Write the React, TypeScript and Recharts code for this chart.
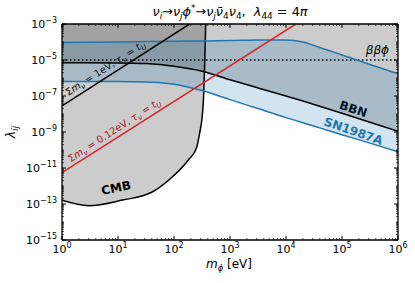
import React from "react";
import { Area, ComposedChart, Line, ReferenceLine, XAxis, YAxis } from "recharts";

document.body.style.margin = "0";

// mass axis (eV) and coupling axis
const massTicks = [1, 10, 100, 1e3, 1e4, 1e5, 1e6];
const lambdaTicks = [1e-15, 1e-14, 1e-13, 1e-12, 1e-11, 1e-10, 1e-9, 1e-8, 1e-7, 1e-6, 1e-5, 1e-4, 1e-3];
const subs = [2, 3, 4, 5, 6, 7, 8, 9];
const massMinor = massTicks.slice(0, -1).flatMap((d) => subs.map((s) => s * d));
const lambdaMinor = lambdaTicks.slice(0, -1).flatMap((d) => subs.map((s) => s * d));
const massAll = [...massTicks, ...massMinor].sort((a, b) => a - b);
const lambdaAll = [...lambdaTicks, ...lambdaMinor].sort((a, b) => a - b);
const lambdaTop = 1e-3;

// SN1987A band
const snMass = [1, 10, 31.6, 100, 316, 1000, 3160, 1e4, 2e4, 4e4, 1e5, 3.16e5, 1e6];
const snUpper = [9.5e-5, 1.0e-4, 1.05e-4, 1.1e-4, 1.15e-4, 1.2e-4, 1.3e-4, 1.3e-4, 1.0e-4, 5e-5, 1.9e-5, 5.6e-6, 1.7e-6];
const snLower = [6.3e-7, 6.3e-7, 6e-7, 4.5e-7, 2e-7, 6.3e-8, 2e-8, 6.3e-9, 3.3e-9, 1.7e-9, 7e-10, 2.4e-10, 8e-11];

// BBN bound
const bbnMass = [1, 10, 31.6, 100, 316, 1000, 3160, 1e4, 1e5, 1e6];
const bbnLambda = [7.1e-6, 6.9e-6, 6.3e-6, 4.5e-6, 2.4e-6, 8e-7, 2.8e-7, 1e-7, 1.1e-8, 1.1e-9];

// CMB bound
const cmbMass = [1, 3, 12, 40, 80, 180, 253, 291, 312, 337, 355, 368];
const cmbLambda = [1.6e-13, 8e-14, 1.65e-13, 4.5e-13, 2.1e-12, 2.8e-11, 1.35e-10, 1.1e-9, 4e-9, 8e-8, 1e-5, 1e-3];

// lifetime lines
const oneEvMass = [1, 190];
const oneEvLambda = [2.8e-8, 1e-3];
const tenthEvMass = [1, 1.5e4];
const tenthEvLambda = [5.5e-12, 1e-3];
const betaBetaLimit = 1e-5;

const snTable = snMass.map((m, i) => ({ m, upper: snUpper[i], lower: snLower[i], band: [snLower[i], snUpper[i]] }));
const bbnTable = bbnMass.map((m, i) => ({ m, lambda: bbnLambda[i], band: [bbnLambda[i], lambdaTop] }));
const cmbTable = cmbMass.map((m, i) => ({ m, lambda: cmbLambda[i], band: [cmbLambda[i], lambdaTop] }));
const oneEvTable = oneEvMass.map((m, i) => ({ m, lambda: oneEvLambda[i] }));
const tenthEvTable = tenthEvMass.map((m, i) => ({ m, lambda: tenthEvLambda[i] }));

const FONT = "DejaVu Sans";
const BLUE = "#1f77b4";
const RED = "#d62728";

const isDecade = (v: number) => Math.abs(Math.log10(v) - Math.round(Math.log10(v))) < 1e-6;
const expOf = (v: number) => {
  const e = Math.round(Math.log10(v));
  return e < 0 ? "\u2212" + Math.abs(e) : String(e);
};

type Part = [string, "n" | "sub" | "sup", boolean?];

function mathParts(parts: Part[], size: number) {
  let cur = 0;
  return parts.map(([t, kind, it], i) => {
    const target = kind === "sub" ? size * 0.25 : kind === "sup" ? -size * 0.4 : 0;
    const dy = target - cur;
    cur = target;
    return (
      <tspan key={i} dy={dy} fontSize={kind === "n" ? size : size * 0.7} fontStyle={it ? "italic" : "normal"}>
        {t}
      </tspan>
    );
  });
}

function BottomTick(props: any) {
  const { x, y, payload } = props;
  const major = isDecade(payload.value);
  return (
    <g>
      <line x1={x} x2={x} y1={y} y2={y - (major ? 4 : 2)} stroke="#000" strokeWidth={major ? 1 : 0.7} />
      {major && (
        <text x={x} y={y + 13} textAnchor="middle" fontSize={11} fontFamily={FONT} fill="#000">
          10<tspan dy={-5} fontSize={8}>{expOf(payload.value)}</tspan>
        </text>
      )}
    </g>
  );
}

function TopTick(props: any) {
  const { x, y, payload } = props;
  const major = isDecade(payload.value);
  return <line x1={x} x2={x} y1={y} y2={y + (major ? 4 : 2)} stroke="#000" strokeWidth={major ? 1 : 0.7} />;
}

function LeftTick(props: any) {
  const { x, y, payload } = props;
  const v = payload.value;
  const major = isDecade(v) && Math.abs(Math.round(Math.log10(v))) % 2 === 1;
  return (
    <g>
      <line x1={x} x2={x + (major ? 4 : 2)} y1={y} y2={y} stroke="#000" strokeWidth={major ? 1 : 0.7} />
      {major && (
        <text x={x - 5} y={y + 4} textAnchor="end" fontSize={11} fontFamily={FONT} fill="#000">
          10<tspan dy={-5} fontSize={8}>{expOf(v)}</tspan>
        </text>
      )}
    </g>
  );
}

function RightTick(props: any) {
  const { x, y, payload } = props;
  const v = payload.value;
  const major = isDecade(v) && Math.abs(Math.round(Math.log10(v))) % 2 === 1;
  return <line x1={x} x2={x - (major ? 4 : 2)} y1={y} y2={y} stroke="#000" strokeWidth={major ? 1 : 0.7} />;
}

export default function App() {
  const xCommon = { type: "number" as const, scale: "log" as const, domain: [1, 1e6], allowDataOverflow: true, dataKey: "m", interval: 0 as const, tickSize: 0, tickMargin: 0, tickLine: false };
  const yCommon = { type: "number" as const, scale: "log" as const, domain: [1e-15, 1e-3], allowDataOverflow: true, interval: 0 as const, tickSize: 0, tickMargin: 0, tickLine: false };
  const frame = { stroke: "#000", strokeWidth: 1.3 };
  return (
    <ComposedChart width={415} height={283} margin={{ top: 23, right: 16, bottom: 13, left: 8 }} style={{ fontFamily: FONT }}>
      <XAxis xAxisId="x" orientation="bottom" height={30} ticks={massAll} tick={(p: any) => <BottomTick {...p} />} axisLine={frame} {...xCommon} />
      <XAxis xAxisId="xt" orientation="top" height={1} ticks={massAll} tick={(p: any) => <TopTick {...p} />} axisLine={frame} {...xCommon} />
      <YAxis yAxisId="y" orientation="left" width={54} ticks={lambdaAll} tick={(p: any) => <LeftTick {...p} />} axisLine={frame} {...yCommon} />
      <YAxis yAxisId="yr" orientation="right" width={1} ticks={lambdaAll} tick={(p: any) => <RightTick {...p} />} axisLine={frame} {...yCommon} />

      <Area xAxisId="x" yAxisId="y" data={bbnTable} dataKey="band" type="monotone" fill="#000" fillOpacity={0.2} stroke="none" isAnimationActive={false} />
      <Area xAxisId="x" yAxisId="y" data={cmbTable} dataKey="band" type="monotone" fill="#000" fillOpacity={0.2} stroke="none" isAnimationActive={false} />
      <Area xAxisId="x" yAxisId="y" data={snTable} dataKey="band" type="monotone" fill={BLUE} fillOpacity={0.2} stroke="none" isAnimationActive={false} />

      <ReferenceLine xAxisId="x" yAxisId="y" y={betaBetaLimit} stroke="#000" strokeWidth={1.5} strokeDasharray="1.5 2.5" />

      <Line xAxisId="x" yAxisId="y" data={bbnTable} dataKey="lambda" type="monotone" stroke="#000" strokeWidth={1.5} dot={false} activeDot={false} isAnimationActive={false} />
      <Line xAxisId="x" yAxisId="y" data={cmbTable} dataKey="lambda" type="monotone" stroke="#000" strokeWidth={1.5} dot={false} activeDot={false} isAnimationActive={false} />
      <Line xAxisId="x" yAxisId="y" data={snTable} dataKey="upper" type="monotone" stroke={BLUE} strokeWidth={1.5} dot={false} activeDot={false} isAnimationActive={false} />
      <Line xAxisId="x" yAxisId="y" data={snTable} dataKey="lower" type="monotone" stroke={BLUE} strokeWidth={1.5} dot={false} activeDot={false} isAnimationActive={false} />
      <Line xAxisId="x" yAxisId="y" data={oneEvTable} dataKey="lambda" type="linear" stroke="#000" strokeWidth={1.5} dot={false} activeDot={false} isAnimationActive={false} />
      <Line xAxisId="x" yAxisId="y" data={tenthEvTable} dataKey="lambda" type="linear" stroke={RED} strokeWidth={1.5} dot={false} activeDot={false} isAnimationActive={false} />

      <text x={230} y={16} textAnchor="middle" fontFamily={FONT} fill="#000">
        {mathParts(
          [
            ["ν", "n", true], ["i", "sub", true], ["→", "n"], ["ν", "n", true], ["j", "sub", true], ["ϕ", "n", true], ["*", "sup"],
            ["→", "n"], ["ν", "n", true], ["j", "sub", true], ["ν\u0304", "n", true], ["4", "sub"], ["ν", "n", true], ["4", "sub"],
            [",\u00a0\u00a0", "n"], ["λ", "n", true], ["44", "sub"], ["\u00a0=\u00a04", "n"], ["π", "n", true],
          ],
          12.8
        )}
      </text>

      <text x={229} y={268} textAnchor="middle" fontFamily={FONT} fill="#000">
        {mathParts([["m", "n", true], ["ϕ", "sub", true], ["\u00a0[eV]", "n"]], 12)}
      </text>
      <text transform="translate(15,132) rotate(-90)" textAnchor="middle" fontFamily={FONT} fill="#000">
        {mathParts([["λ", "n", true], ["ij", "sub", true]], 12.5)}
      </text>

      <text x={389} y={54} textAnchor="end" fontFamily={FONT} fill="#000">
        {mathParts([["ββϕ", "n", true]], 12)}
      </text>
      <text transform="translate(352,113) rotate(18)" textAnchor="middle" fontFamily={FONT} fontSize={12} fontWeight="bold" fill="#000">
        BBN
      </text>
      <text transform="translate(352,135) rotate(19)" textAnchor="middle" fontFamily={FONT} fontSize={12} fontWeight="bold" fill={BLUE}>
        SN1987A
      </text>
      <text transform="translate(117,192) rotate(-12)" textAnchor="middle" fontFamily={FONT} fontSize={12} fontWeight="bold" fill="#000">
        CMB
      </text>
      <text transform="translate(107,71) rotate(-32.7)" textAnchor="middle" fontFamily={FONT} fill="#000">
        {mathParts(
          [["Σ", "n"], ["m", "n", true], ["ν", "sub", true], ["\u00a0=\u00a01eV,\u00a0", "n"], ["τ", "n", true], ["ν", "sub", true], ["\u00a0=\u00a0", "n"], ["t", "n", true], ["U", "sub", true]],
          9.8
        )}
      </text>
      <text transform="translate(116,133) rotate(-33)" textAnchor="middle" fontFamily={FONT} fill={RED}>
        {mathParts(
          [["Σ", "n"], ["m", "n", true], ["ν", "sub", true], ["\u00a0=\u00a00.12eV,\u00a0", "n"], ["τ", "n", true], ["ν", "sub", true], ["\u00a0=\u00a0", "n"], ["t", "n", true], ["U", "sub", true]],
          9.8
        )}
      </text>
    </ComposedChart>
  );
}
